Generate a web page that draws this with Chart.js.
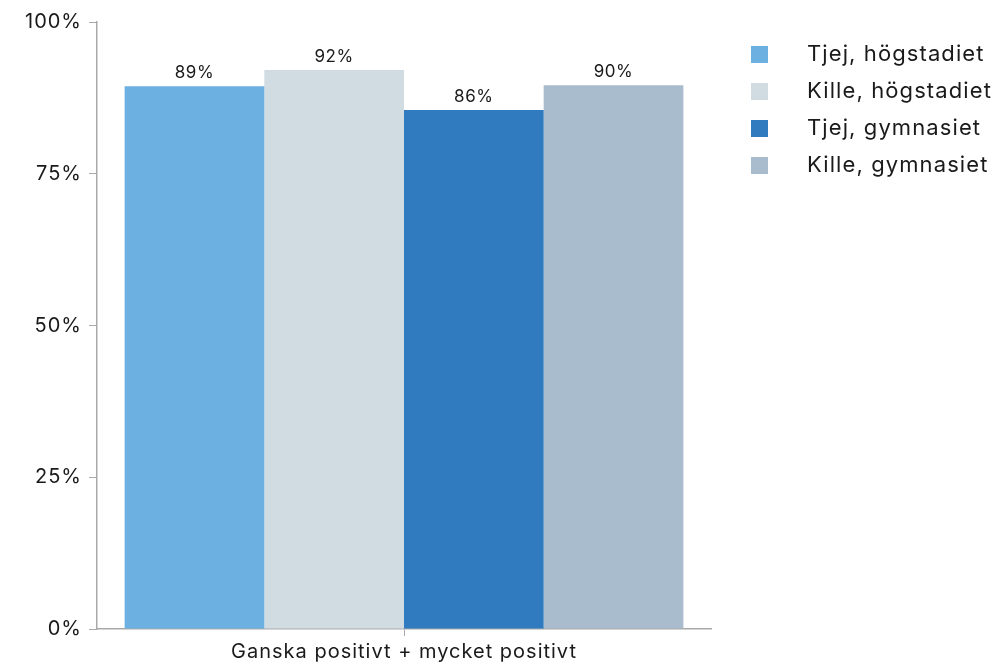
<!DOCTYPE html>
<html>
<head>
<meta charset="utf-8">
<script src="https://cdn.jsdelivr.net/npm/chart.js@4"></script>
<style>
  html, body { margin: 0; padding: 0; background: #fff; }
  #wrap { width: 999px; height: 664px; }
</style>
</head>
<body>
<div id="wrap"><canvas id="chart"></canvas></div>
<script>
const categories = ["Ganska positivt + mycket positivt"];
const seriesNames = ["Tjej, högstadiet", "Kille, högstadiet", "Tjej, gymnasiet", "Kille, gymnasiet"];
const seriesValues = [[89.4], [92.1], [85.5], [89.6]];
const seriesColors = ["#6cb0e1", "#d0dbe2", "#307abf", "#a8bccd"];
const yTicks = [0, 25, 50, 75, 100];

const FONT = "Inter, 'Noto Sans', sans-serif";
const TEXT = "#1a1a1a";
const AXIS = "#a9a9a9";

// wider letter spacing, the source font is broad
const spacing = {
  id: "spacing",
  beforeDraw(chart) { chart.ctx.letterSpacing = "1px"; }
};

// value labels above each bar
const valueLabels = {
  id: "valueLabels",
  afterDatasetsDraw(chart) {
    const ctx = chart.ctx;
    ctx.save();
    ctx.letterSpacing = "0.6px";
    ctx.font = "17px " + FONT;
    ctx.fillStyle = TEXT;
    ctx.textAlign = "center";
    ctx.textBaseline = "alphabetic";
    chart.data.datasets.forEach((ds, i) => {
      chart.getDatasetMeta(i).data.forEach((bar, j) => {
        ctx.fillText(Math.round(ds.data[j]) + "%", bar.x, bar.y - 8);
      });
    });
    ctx.restore();
  }
};

// legend on the right, drawn by hand for spacing
const sideLegend = {
  id: "sideLegend",
  afterDraw(chart) {
    const ctx = chart.ctx;
    ctx.save();
    ctx.letterSpacing = "1.1px";
    ctx.font = "22px " + FONT;
    ctx.textBaseline = "middle";
    chart.data.datasets.forEach((ds, i) => {
      const cy = 54.5 + i * 37;
      ctx.fillStyle = ds.backgroundColor;
      ctx.fillRect(751, cy - 8.5, 17, 17);
      ctx.fillStyle = TEXT;
      ctx.fillText(ds.label, 807, cy);
    });
    ctx.restore();
  }
};

new Chart(document.getElementById("chart"), {
  type: "bar",
  data: {
    labels: categories,
    datasets: seriesNames.map((name, i) => ({
      label: name,
      data: seriesValues[i],
      backgroundColor: seriesColors[i],
      borderWidth: 0,
      categoryPercentage: 0.91,
      barPercentage: 1
    }))
  },
  options: {
    responsive: true,
    maintainAspectRatio: false,
    animation: false,
    layout: { padding: { top: 22, right: 288, left: 0, bottom: 0 } },
    plugins: {
      legend: { display: false },
      tooltip: { enabled: false }
    },
    scales: {
      x: {
        grid: { display: true, drawOnChartArea: false, offset: false, color: AXIS, tickLength: 7 },
        border: { color: AXIS, width: 1.5 },
        ticks: { color: TEXT, font: { family: FONT, size: 20 }, padding: 4 },
        afterFit(s) { s.height = 35; }
      },
      y: {
        min: 0,
        max: 100,
        afterBuildTicks(s) { s.ticks = yTicks.map((v) => ({ value: v })); },
        grid: { display: true, drawOnChartArea: false, color: AXIS, tickLength: 8 },
        border: { color: AXIS, width: 1.5 },
        ticks: {
          color: TEXT,
          font: { family: FONT, size: 20 },
          padding: 7,
          callback: (v) => v + "%"
        },
        afterFit(s) { s.width = 97; }
      }
    }
  },
  plugins: [spacing, valueLabels, sideLegend]
});
</script>
</body>
</html>
